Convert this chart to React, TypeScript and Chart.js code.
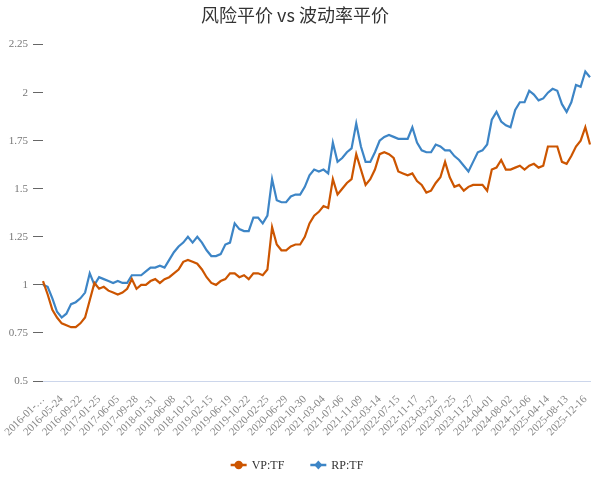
import { useEffect, useRef } from 'react';
import { Chart, registerables } from 'chart.js';

Chart.register(...registerables);

// Tick dates shown on the x axis (one every 4 sampled points)
const TICK_DATES = [
  '2016-01-04', '2016-05-24', '2016-09-22', '2017-01-25', '2017-06-05', '2017-09-28',
  '2018-01-31', '2018-06-08', '2018-10-12', '2019-02-15', '2019-06-19', '2019-10-22',
  '2020-02-25', '2020-06-29', '2020-10-30', '2021-03-04', '2021-07-06', '2021-11-09',
  '2022-03-14', '2022-07-15', '2022-11-17', '2023-03-22', '2023-07-25', '2023-11-27',
  '2024-04-01', '2024-08-02', '2024-12-06', '2025-04-14', '2025-08-13', '2025-12-16',
];
const POINTS_PER_TICK = 4;

// VP:TF (volatility parity) net value, sampled
const VP_TF = [
  1.02, 0.95, 0.87, 0.83, 0.80, 0.79, 0.78, 0.78, 0.80, 0.83,
  0.92, 1.01, 0.98, 0.99, 0.97, 0.96, 0.95, 0.96, 0.98, 1.03,
  0.98, 1.00, 1.00, 1.02, 1.03, 1.01, 1.03, 1.04, 1.06, 1.08,
  1.12, 1.13, 1.12, 1.11, 1.08, 1.04, 1.01, 1.00, 1.02, 1.03,
  1.06, 1.06, 1.04, 1.05, 1.03, 1.06, 1.06, 1.05, 1.08, 1.30,
  1.21, 1.18, 1.18, 1.20, 1.21, 1.21, 1.25, 1.32, 1.36, 1.38,
  1.41, 1.40, 1.55, 1.47, 1.50, 1.53, 1.55, 1.68, 1.60, 1.52,
  1.55, 1.60, 1.68, 1.69, 1.68, 1.66, 1.59, 1.58, 1.57, 1.58,
  1.54, 1.52, 1.48, 1.49, 1.53, 1.56, 1.64, 1.56, 1.51, 1.52,
  1.49, 1.51, 1.52, 1.52, 1.52, 1.49, 1.60, 1.61, 1.65, 1.60,
  1.60, 1.61, 1.62, 1.60, 1.62, 1.63, 1.61, 1.62, 1.72, 1.72,
  1.72, 1.64, 1.63, 1.67, 1.72, 1.75, 1.82, 1.73,
];

// RP:TF (risk parity) net value, sampled
const RP_TF = [
  1.00, 0.99, 0.93, 0.86, 0.83, 0.85, 0.90, 0.91, 0.93, 0.96,
  1.06, 1.00, 1.04, 1.03, 1.02, 1.01, 1.02, 1.01, 1.01, 1.05,
  1.05, 1.05, 1.07, 1.09, 1.09, 1.10, 1.09, 1.13, 1.17, 1.20,
  1.22, 1.25, 1.22, 1.25, 1.22, 1.18, 1.15, 1.15, 1.16, 1.21,
  1.22, 1.32, 1.29, 1.28, 1.28, 1.35, 1.35, 1.32, 1.36, 1.55,
  1.44, 1.43, 1.43, 1.46, 1.47, 1.47, 1.51, 1.57, 1.60, 1.59,
  1.60, 1.58, 1.74, 1.64, 1.66, 1.69, 1.71, 1.84, 1.72, 1.64,
  1.64, 1.69, 1.75, 1.77, 1.78, 1.77, 1.76, 1.76, 1.76, 1.82,
  1.74, 1.70, 1.69, 1.69, 1.73, 1.72, 1.70, 1.70, 1.67, 1.65,
  1.62, 1.59, 1.64, 1.69, 1.70, 1.73, 1.86, 1.90, 1.85, 1.83,
  1.82, 1.91, 1.95, 1.95, 2.01, 1.99, 1.96, 1.97, 2.00, 2.02,
  2.01, 1.94, 1.90, 1.95, 2.04, 2.03, 2.11, 2.08,
];

const CATEGORIES = VP_TF.map((_, i) =>
  i % POINTS_PER_TICK === 0 ? TICK_DATES[i / POINTS_PER_TICK] ?? '' : ''
);

const Y_MIN = 0.5;
const Y_MAX = 2.25;
const Y_STEP = 0.25;

const SERIF = '"Liberation Serif", "Times New Roman", serif';

const lineLegend = {
  id: 'lineLegend',
  afterDraw(chart: any) {
    const ctx: CanvasRenderingContext2D = chart.ctx;
    const items = chart.data.datasets.map((ds: any) => ({
      label: ds.label as string,
      color: ds.borderColor as string,
      marker: ds.legendMarker as string,
    }));
    ctx.save();
    ctx.font = `12px ${SERIF}`;
    const sym = 16;
    const gapText = 5;
    const gapItem = 26;
    const widths = items.map((it: any) => sym + gapText + ctx.measureText(it.label).width);
    const total = widths.reduce((a: number, b: number) => a + b, 0) + gapItem * (items.length - 1);
    let x = chart.width / 2 - total / 2;
    const y = chart.height - 17;
    items.forEach((it: any, i: number) => {
      ctx.strokeStyle = it.color;
      ctx.fillStyle = it.color;
      ctx.lineWidth = 2.5;
      ctx.beginPath();
      ctx.moveTo(x, y);
      ctx.lineTo(x + sym, y);
      ctx.stroke();
      const cx = x + sym / 2;
      ctx.beginPath();
      if (it.marker === 'diamond') {
        ctx.moveTo(cx, y - 4.5);
        ctx.lineTo(cx + 4, y);
        ctx.lineTo(cx, y + 4.5);
        ctx.lineTo(cx - 4, y);
        ctx.closePath();
      } else {
        ctx.arc(cx, y, 4.2, 0, Math.PI * 2);
      }
      ctx.fill();
      ctx.fillStyle = '#333';
      ctx.textBaseline = 'middle';
      ctx.textAlign = 'left';
      ctx.fillText(it.label, x + sym + gapText, y + 1);
      x += widths[i] + gapItem;
    });
    ctx.restore();
  },
};

export default function App() {
  const canvasRef = useRef<HTMLCanvasElement | null>(null);

  useEffect(() => {
    if (!canvasRef.current) return;
    const chart = new Chart(canvasRef.current, {
      type: 'line',
      data: {
        labels: CATEGORIES,
        datasets: [
          {
            label: 'VP:TF',
            data: VP_TF,
            borderColor: '#cc5500',
            backgroundColor: '#cc5500',
            borderWidth: 2.2,
            pointRadius: 0,
            pointHoverRadius: 0,
            tension: 0,
            legendMarker: 'circle',
          } as any,
          {
            label: 'RP:TF',
            data: RP_TF,
            borderColor: '#3d85c6',
            backgroundColor: '#3d85c6',
            borderWidth: 2.2,
            pointRadius: 0,
            pointHoverRadius: 0,
            tension: 0,
            legendMarker: 'diamond',
          } as any,
        ],
      },
      options: {
        animation: false,
        responsive: true,
        maintainAspectRatio: false,
        layout: { padding: { left: 0, right: 4, top: 0, bottom: 33 } },
        plugins: {
          legend: { display: false },
          tooltip: { enabled: false },
          title: {
            display: true,
            text: '风险平价 vs 波动率平价',
            color: '#333',
            font: { family: '"Noto Sans CJK SC", "Noto Sans", sans-serif', size: 18, weight: 'normal' },
            padding: { top: 4, bottom: 19 },
          },
        },
        scales: {
          x: {
            type: 'category',
            grid: { display: false, drawTicks: false },
            border: { display: true, color: '#ccd6eb', width: 1 },
            ticks: {
              autoSkip: false,
              minRotation: 45,
              maxRotation: 45,
              padding: 12,
              color: '#888',
              font: { family: SERIF, size: 11 },
              callback(this: any, value: any, index: number) {
                const l = this.getLabelForValue(value) as string;
                if (index === 0 && l) return l.slice(0, 8) + '…';
                return l;
              },
            },
            afterFit(scale: any) {
              scale.height = 68;
              scale.paddingLeft = 0;
              scale.paddingRight = 0;
            },
          },
          y: {
            min: Y_MIN,
            max: Y_MAX,
            grid: { display: true, drawOnChartArea: false, drawTicks: true, tickLength: 10, color: '#666' },
            border: { display: false },
            ticks: {
              stepSize: Y_STEP,
              padding: 5,
              color: '#777',
              font: { family: SERIF, size: 11 },
              callback(value: any) {
                return String(Number(Number(value).toFixed(2)));
              },
            },
            afterFit(scale: any) {
              scale.width = 43;
            },
          },
        },
      },
      plugins: [lineLegend],
    });
    return () => chart.destroy();
  }, []);

  return (
    <div style={{ position: 'fixed', left: 0, top: 0, width: 594, height: 482 }}>
      <canvas ref={canvasRef} />
    </div>
  );
}
